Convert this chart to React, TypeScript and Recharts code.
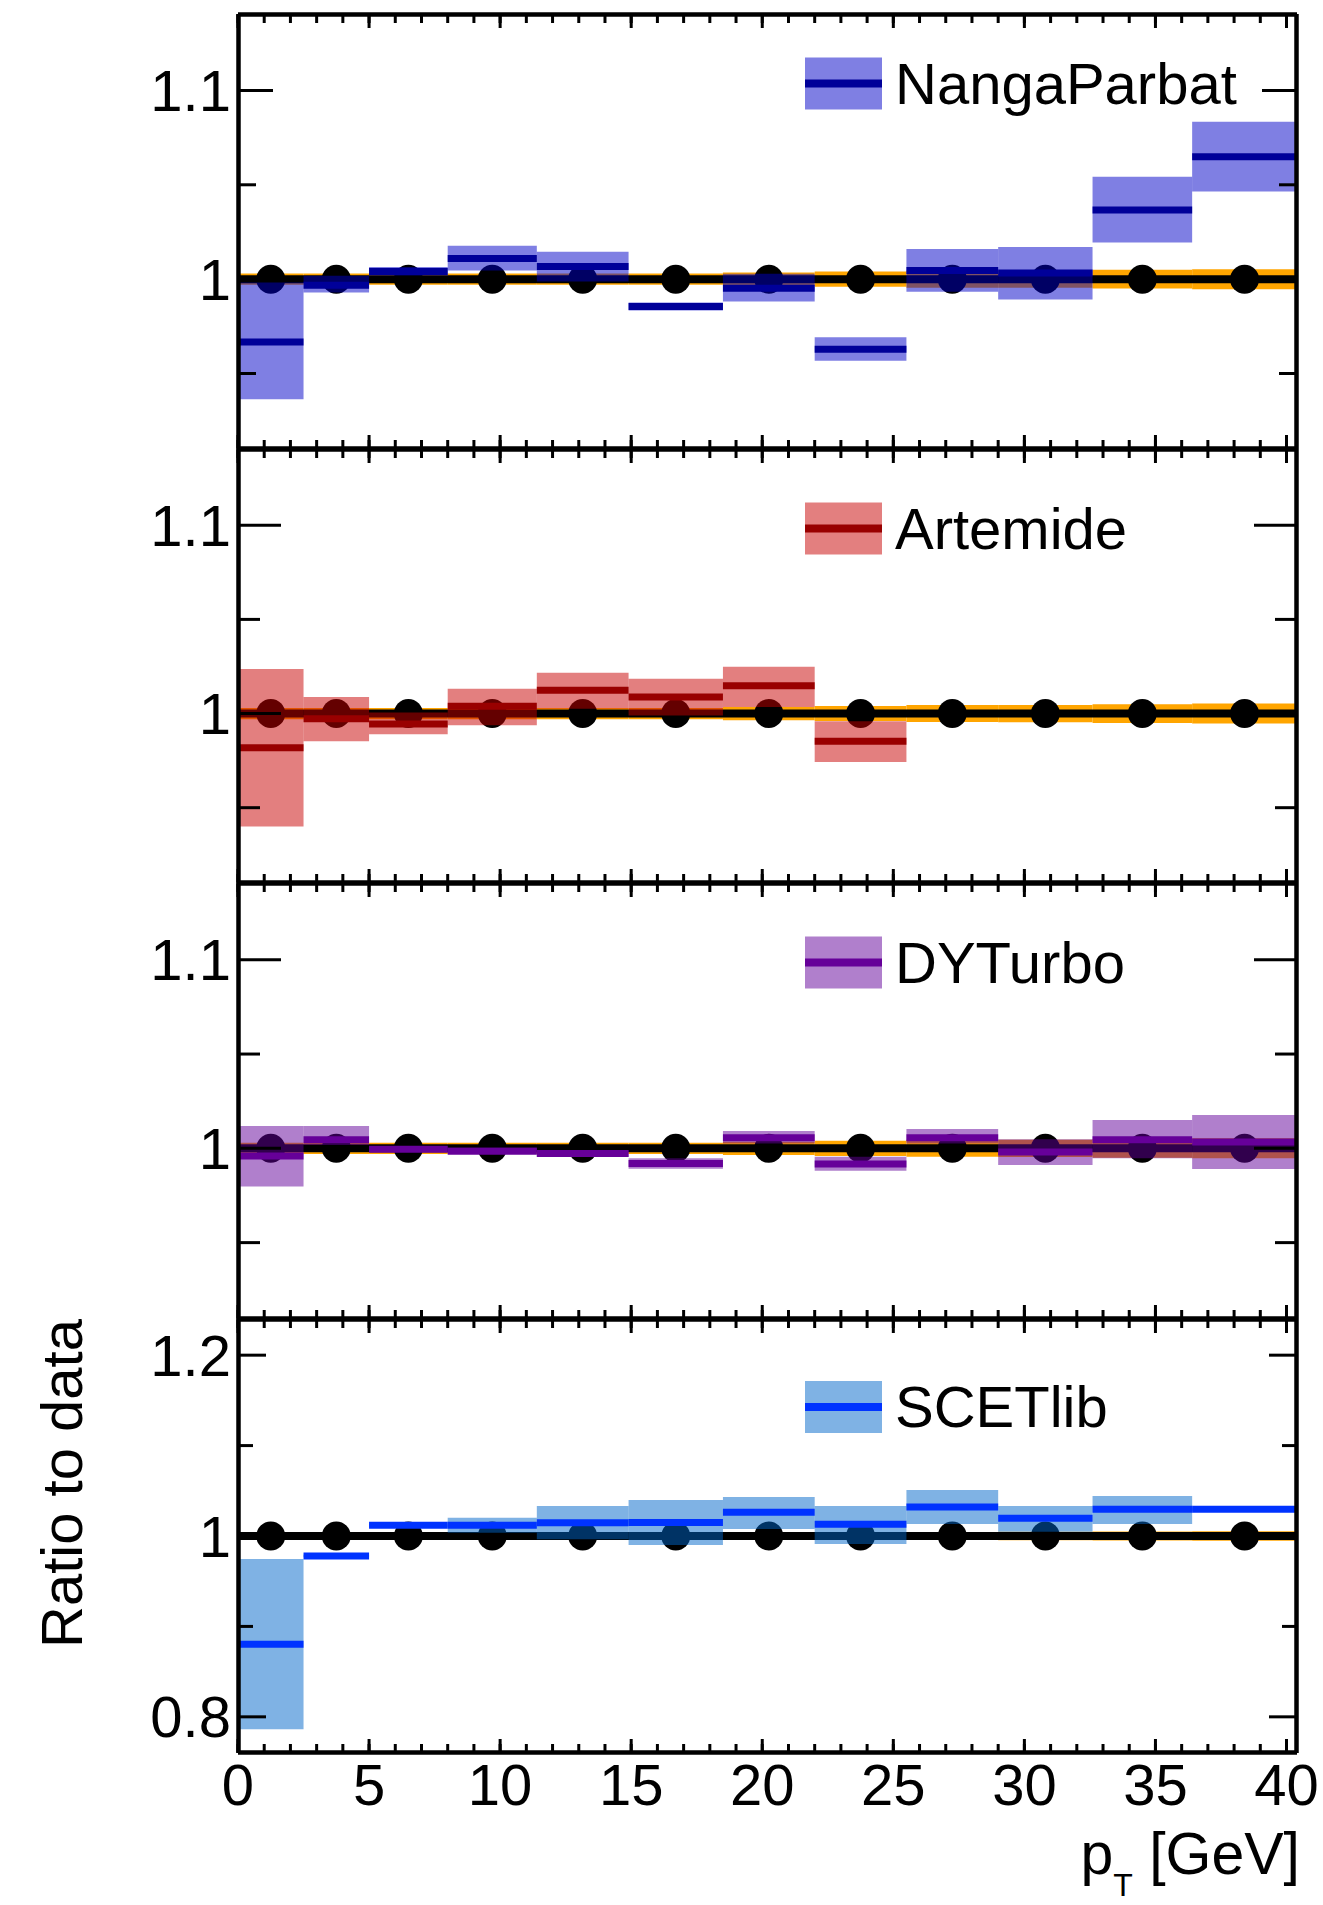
import React from 'react';
import { ComposedChart, XAxis, YAxis, Scatter, ReferenceArea, ReferenceLine } from 'recharts';

// bins in pT [GeV]
const BIN_EDGES = [0, 2.5, 5, 8, 11.4, 14.9, 18.5, 22, 25.5, 29, 32.6, 36.4, 40.4];
const BIN_CENTERS = [1.25, 3.75, 6.5, 9.7, 13.15, 16.7, 20.25, 23.75, 27.25, 30.8, 34.5, 38.4];
const DATA_RATIO = [1, 1, 1, 1, 1, 1, 1, 1, 1, 1, 1, 1];
const DATA_UNC = [0.003, 0.003, 0.003, 0.003, 0.003, 0.003, 0.0035, 0.004, 0.0045, 0.0046, 0.005, 0.0053];

const NP_MID = [0.9667, 0.9968, 1.004, 1.011, 1.0067, 0.9855, 0.9952, 0.9629, 1.0046, 1.0032, 1.0367, 1.0648];
const NP_LO = [0.9364, 0.9929, 1.0019, 1.0046, 0.9987, 0.9834, 0.9881, 0.9568, 0.9933, 0.9892, 1.0194, 1.0464];
const NP_HI = [0.9982, 1.0018, 1.0064, 1.0177, 1.0145, 0.9876, 1.0028, 0.9692, 1.016, 1.0171, 1.0542, 1.0834];

const ART_MID = [0.9818, 0.9973, 0.9945, 1.0039, 1.0124, 1.0088, 1.0147, 0.9853];
const ART_LO = [0.94, 0.9853, 0.989, 0.9938, 1.0025, 0.999, 1.0035, 0.9742];
const ART_HI = [1.0237, 1.0088, 1.0005, 1.0132, 1.0217, 1.0185, 1.0249, 0.9959];

const DYT_MID = [0.9959, 1.0046, 0.9995, 0.9984, 0.9973, 0.992, 1.0056, 0.9917, 1.0056, 0.998, 1.0046, 1.0033];
const DYT_LO = [0.9797, 1.0018, 0.998, 0.9972, 0.9955, 0.9892, 1.0026, 0.9881, 1.0026, 0.9911, 0.9947, 0.989];
const DYT_HI = [1.0118, 1.0118, 1.001, 1.0005, 0.999, 0.9947, 1.0092, 0.9956, 1.0102, 1.0048, 1.015, 1.0177];

const SCET_MID = [0.8802, 0.9779, 1.0118, 1.0118, 1.0147, 1.015, 1.0262, 1.0129, 1.0321, 1.0196, 1.0295, 1.0295];
const SCET_LO = [0.7862, 0.9765, 1.0098, 1.0037, 0.9963, 0.99, 1.0077, 0.9912, 1.0133, 1.0048, 1.0133, 1.0275];
const SCET_HI = [0.9746, 0.9793, 1.0138, 1.0203, 1.0332, 1.0398, 1.0431, 1.0332, 1.0509, 1.0332, 1.0442, 1.0315];

const X_MAJOR = [0, 5, 10, 15, 20, 25, 30, 35, 40];
const X_MINOR = Array.from({ length: 41 }, (_, i) => i);
const Y_MAJOR_TOP = [1, 1.1];
const Y_MINOR_TOP = [0.95, 1.05];
const Y_MAJOR_BOT = [0.8, 1, 1.2];
const Y_MINOR_BOT = [0.9, 1.1];

const W = 1323;
const PLOT_RIGHT = 1297;
const PAD = 10;
const FONT = '"Liberation Sans", Arial, Helvetica, sans-serif';
const X_DOMAIN = [0, 40.4];

const PANELS = [
  { name: 'NangaParbat', mid: NP_MID, lo: NP_LO, hi: NP_HI, fill: '#0000C8', line: '#000099',
    top: 14, bottom: 449, domain: [0.91, 1.1405], major: Y_MAJOR_TOP, minor: Y_MINOR_TOP, majLen: 35, minLen: 17, legendY: 83.5, xLabels: false },
  { name: 'Artemide', mid: ART_MID, lo: ART_LO, hi: ART_HI, fill: '#C80000', line: '#990000',
    top: 449, bottom: 883, domain: [0.91, 1.1405], major: Y_MAJOR_TOP, minor: Y_MINOR_TOP, majLen: 43, minLen: 21, legendY: 528.5, xLabels: false },
  { name: 'DYTurbo', mid: DYT_MID, lo: DYT_LO, hi: DYT_HI, fill: '#610099', line: '#660099',
    top: 883, bottom: 1319, domain: [0.9095, 1.1407], major: Y_MAJOR_TOP, minor: Y_MINOR_TOP, majLen: 43, minLen: 21, legendY: 962.5, xLabels: false },
  { name: 'SCETlib', mid: SCET_MID, lo: SCET_LO, hi: SCET_HI, fill: '#0065C9', line: '#0033FF',
    top: 1319, bottom: 1753, domain: [0.76, 1.24], major: Y_MAJOR_BOT, minor: Y_MINOR_BOT, majLen: 28, minLen: 14, legendY: 1407, xLabels: true },
];

const axisLine = { stroke: '#000', strokeWidth: 3.5 };
const tickLine = { stroke: '#000', strokeWidth: 3 };
const tickFont = { fontSize: 58, fill: '#000', fontFamily: FONT };
const noLabel = () => '';

function Panel({ p }: { p: any }) {
  const h = p.bottom - p.top;
  const extra = p.xLabels ? 90 : 0;
  const pts = BIN_CENTERS.map((x, i) => ({ x, y: DATA_RATIO[i] }));
  return (
    <div style={{ position: 'absolute', left: 0, top: p.top - PAD }}>
      <ComposedChart width={W} height={h + 2 * PAD + extra}
        margin={{ top: PAD, right: W - PLOT_RIGHT, bottom: PAD, left: 0 }}>
        {/* data uncertainty band */}
        {DATA_UNC.map((u, i) => (
          <ReferenceArea key={'d' + i} x1={BIN_EDGES[i]} x2={BIN_EDGES[i + 1]}
            y1={DATA_RATIO[i] - u} y2={DATA_RATIO[i] + u}
            fill="#FFA500" fillOpacity={1} stroke="none" zIndex={110} />
        ))}
        <ReferenceLine y={1} stroke="#000" strokeWidth={8} zIndex={120} />
        <Scatter data={pts} isAnimationActive={false} zIndex={130}
          shape={(s: any) => <circle cx={s.cx} cy={s.cy} r={14.5} fill="#000" />} />
        {/* model boxes */}
        {p.mid.map((_: number, i: number) => (
          <ReferenceArea key={'m' + i} x1={BIN_EDGES[i]} x2={BIN_EDGES[i + 1]}
            y1={p.lo[i]} y2={p.hi[i]} fill={p.fill} fillOpacity={0.5} stroke="none" zIndex={140} />
        ))}
        {p.mid.map((v: number, i: number) => (
          <ReferenceLine key={'c' + i} segment={[{ x: BIN_EDGES[i], y: v }, { x: BIN_EDGES[i + 1], y: v }]}
            stroke={p.line} strokeWidth={7} zIndex={150} />
        ))}

        <XAxis xAxisId={0} type="number" dataKey="x" domain={X_DOMAIN} allowDataOverflow ticks={X_MAJOR}
          interval={0} hide={!p.xLabels} height={extra} tickLine={false} axisLine={false}
          tickSize={0} tickMargin={11} tick={tickFont} />
        <YAxis yAxisId={0} type="number" dataKey="y" domain={p.domain} allowDataOverflow ticks={p.major}
          interval={0} width={238} tickLine={false} axisLine={false} tickSize={0} tickMargin={7} tick={tickFont} />

        {/* frame with inward ticks */}
        {[['bottom', X_MAJOR, 14, 'xb1'], ['bottom', X_MINOR, 8, 'xb2'], ['top', X_MAJOR, 14, 'xt1'], ['top', X_MINOR, 8, 'xt2']].map(
          ([o, t, s, id]: any) => (
            <XAxis key={id} xAxisId={id} orientation={o} mirror type="number" scale="linear" dataKey="x"
              domain={X_DOMAIN} allowDataOverflow ticks={t} interval={0} minTickGap={0} tickFormatter={noLabel}
              tickSize={s} tickMargin={0} height={1} axisLine={axisLine} tickLine={tickLine} />
          ))}
        {[['left', p.major, p.majLen, 'yl1'], ['left', p.minor, p.minLen, 'yl2'], ['right', p.major, p.majLen, 'yr1'], ['right', p.minor, p.minLen, 'yr2']].map(
          ([o, t, s, id]: any) => (
            <YAxis key={id} yAxisId={id} orientation={o} mirror type="number" domain={p.domain} allowDataOverflow
              ticks={t} interval={0} tickFormatter={noLabel} tickSize={s} tickMargin={0} width={1}
              axisLine={axisLine} tickLine={tickLine} />
          ))}
      </ComposedChart>
    </div>
  );
}

export default function App() {
  return (
    <div style={{ position: 'absolute', left: 0, top: 0, width: W, height: 1905, background: '#fff' }}>
      {PANELS.map((p) => <Panel key={p.name} p={p} />)}
      <svg width={W} height={1905} style={{ position: 'absolute', left: 0, top: 0, pointerEvents: 'none' }}>
        {PANELS.map((p) => (
          <g key={p.name}>
            <rect x={805} y={p.legendY - 26} width={77} height={52} fill={p.fill} fillOpacity={0.5} />
            <line x1={805} x2={882} y1={p.legendY} y2={p.legendY} stroke={p.line} strokeWidth={8} />
            <text x={895} y={p.legendY + 20} fontSize={58} fontFamily={FONT} fill="#000">{p.name}</text>
          </g>
        ))}
        <text transform="translate(82,1319) rotate(-90)" textAnchor="end" fontSize={58} fontFamily={FONT} fill="#000">
          Ratio to data
        </text>
        <text x={1300} y={1874} textAnchor="end" fontSize={59} fontFamily={FONT} fill="#000">
          p<tspan fontSize={32} dy={22}>T</tspan><tspan dy={-22}>{'\u00a0[GeV]'}</tspan>
        </text>
      </svg>
    </div>
  );
}
